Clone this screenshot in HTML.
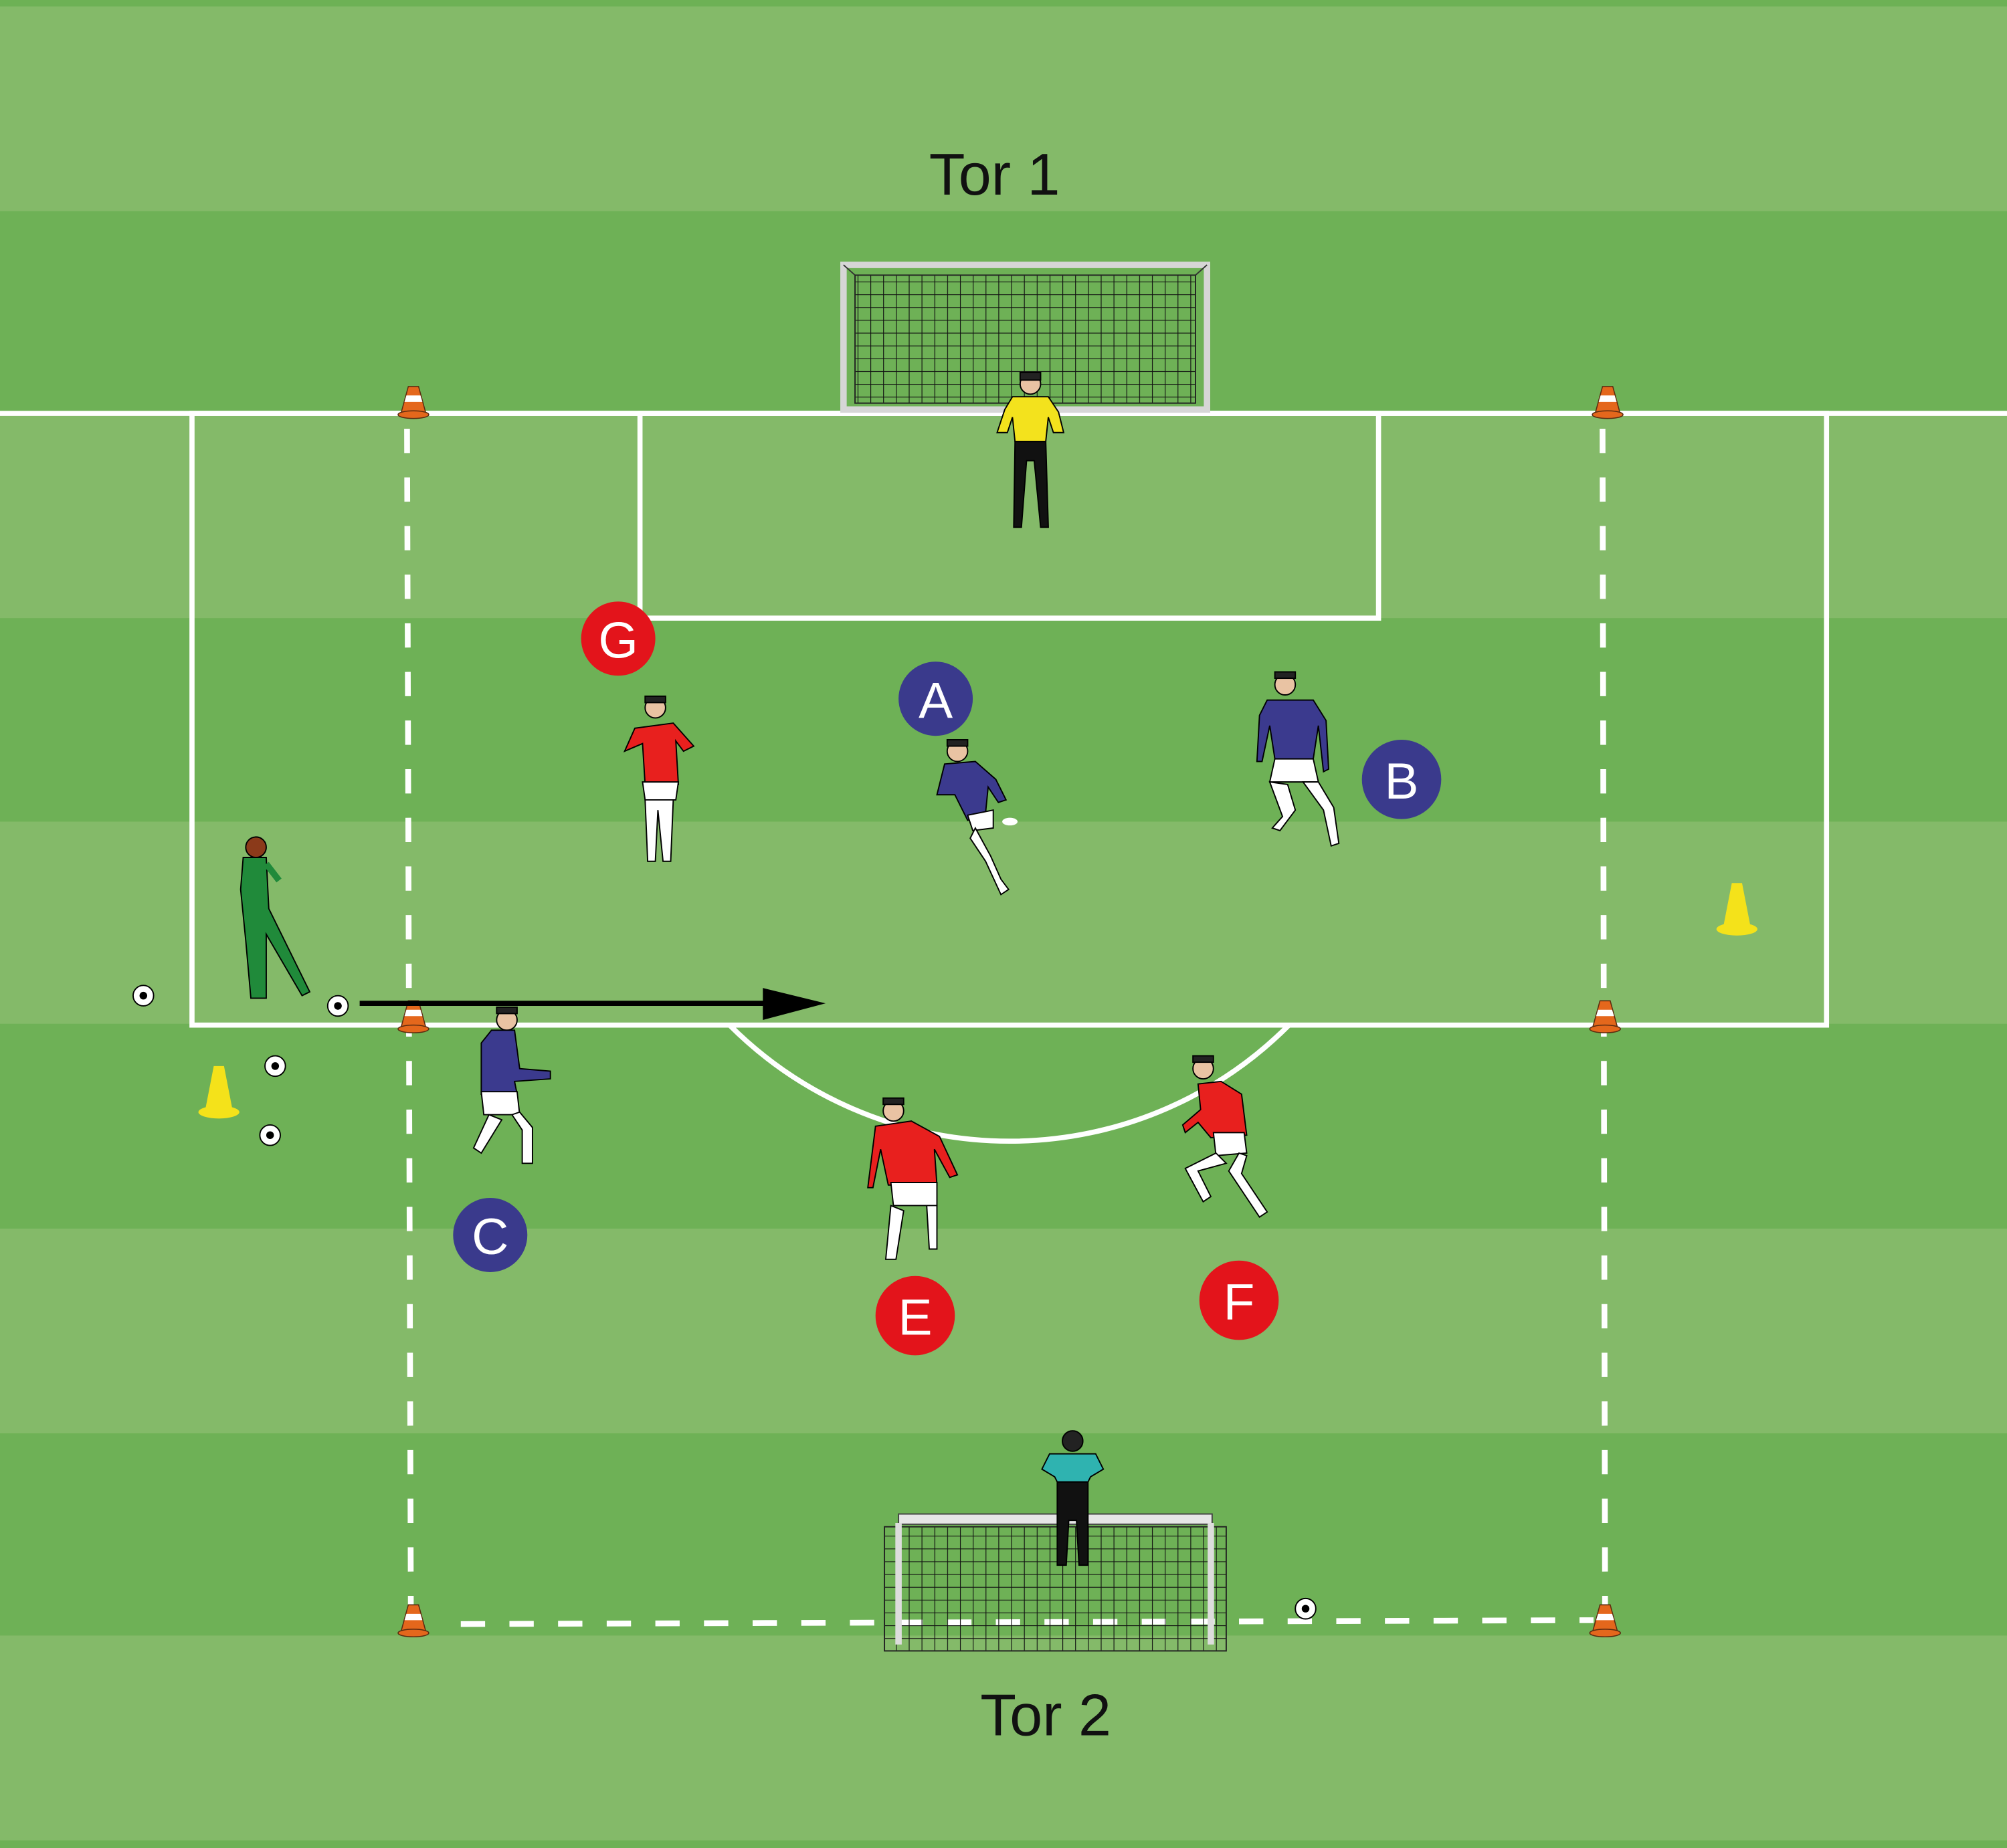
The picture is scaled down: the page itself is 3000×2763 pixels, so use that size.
<!DOCTYPE html>
<html><head><meta charset="utf-8">
<style>
html,body{margin:0;padding:0;width:3000px;height:2763px;overflow:hidden;background:#78b55e}
svg{display:block}
text{font-family:"Liberation Sans",sans-serif}
</style></head><body>
<svg width="3000" height="2763" viewBox="0 0 1568 1444" preserveAspectRatio="none" xmlns="http://www.w3.org/2000/svg">
<defs>
<pattern id="net" width="10" height="10" patternUnits="userSpaceOnUse">
<path d="M0 0H10M0 0V10" stroke="#111" stroke-width="1.2" fill="none"/>
</pattern>
<g id="cone">
<path d="M-4 -16 L4 -16 L10 6 L-10 6 Z" fill="#e4671c" stroke="#5a2b10" stroke-width="0.8"/>
<path d="M-5.5 -9 L5.5 -9 L7 -4 L-7 -4 Z" fill="#fff"/>
<ellipse cx="0" cy="6" rx="12" ry="3" fill="#e4671c" stroke="#5a2b10" stroke-width="0.8"/>
</g>
<g id="ycone">
<path d="M-4 -22 L4 -22 L11 14 L-11 14 Z" fill="#f4e21a"/>
<ellipse cx="0" cy="14" rx="16" ry="5" fill="#f4e21a"/>
</g>
<g id="ball">
<circle r="8" fill="#fff" stroke="#000" stroke-width="1"/>
<circle r="3" fill="#000"/>
</g>
</defs>
<rect x="0" y="0" width="1568" height="1444" fill="#84ba69"/>
<rect x="0" y="0" width="1568" height="5" fill="#6db155"/>
<rect x="0" y="165" width="1568" height="158" fill="#6eb156"/>
<rect x="0" y="483" width="1568" height="159" fill="#6eb156"/>
<rect x="0" y="800" width="1568" height="160" fill="#6eb156"/>
<rect x="0" y="1120" width="1568" height="158" fill="#6eb156"/>
<rect x="0" y="1438" width="1568" height="6" fill="#6db155"/>
<g stroke="#fff" stroke-width="4" fill="none">
<line x1="0" y1="323" x2="1568" y2="323"/>
<rect x="150" y="323" width="1277" height="478"/>
<rect x="500" y="323" width="577" height="160"/>
<path d="M570 801 A309 309 0 0 0 1007 801"/>
</g>
<g stroke="#fff" stroke-width="4.5" stroke-dasharray="19 19" fill="none">
<line x1="318" y1="335" x2="321" y2="1262"/>
<line x1="1252" y1="335" x2="1254" y2="1262"/>
<line x1="360" y1="1269" x2="1245" y2="1266"/>
</g>
<rect x="659" y="207" width="284" height="113" fill="none" stroke="#d6d6d6" stroke-width="5"/>
<rect x="668" y="215" width="266" height="100" fill="url(#net)" stroke="#222"/>
<line x1="659" y1="207" x2="668" y2="215" stroke="#333"/><line x1="943" y1="207" x2="934" y2="215" stroke="#333"/>
<rect x="691" y="1193" width="267" height="97" fill="url(#net)" stroke="#222"/>
<rect x="702" y="1183" width="245" height="8" fill="#e6e6e6" stroke="#444"/>
<line x1="702" y1="1190" x2="702" y2="1285" stroke="#ddd" stroke-width="5"/>
<line x1="946" y1="1190" x2="946" y2="1285" stroke="#ddd" stroke-width="5"/>
<text x="777" y="152" font-size="46" text-anchor="middle" fill="#111">Tor 1</text>
<text x="817" y="1356" font-size="46" text-anchor="middle" fill="#111">Tor 2</text>
<use href="#cone" x="323" y="318"/><use href="#cone" x="1256" y="318"/>
<use href="#cone" x="323" y="798"/><use href="#cone" x="1254" y="798"/>
<use href="#cone" x="323" y="1270"/><use href="#cone" x="1254" y="1270"/>
<use href="#ycone" x="171" y="855"/><use href="#ycone" x="1357" y="712"/>
<use href="#ball" x="112" y="778"/><use href="#ball" x="215" y="833"/><use href="#ball" x="211" y="887"/>
<use href="#ball" x="264" y="786"/><use href="#ball" x="1020" y="1257"/>
<ellipse cx="789" cy="642" rx="6" ry="3" fill="#fff"/>
<line x1="281" y1="784" x2="600" y2="784" stroke="#000" stroke-width="4"/>
<path d="M596 772 L645 784 L596 797 Z" fill="#000"/>
<g stroke="#000" stroke-width="1">
<g transform="translate(805,290)">
<circle cx="0" cy="10" r="8" fill="#e9c3a3"/><rect x="-8" y="1" width="16" height="6" fill="#222"/>
<path d="M-20 30 L-14 20 L14 20 L22 32 L26 48 L18 48 L14 36 L12 55 L-12 55 L-14 36 L-18 48 L-26 48 Z" fill="#f3e21d"/>
<path d="M-12 55 L12 55 L14 122 L8 122 L3 70 L-3 70 L-7 122 L-13 122 Z" fill="#111"/>
</g>
<g transform="translate(838,1118)">
<circle cx="0" cy="8" r="8" fill="#222"/>
<path d="M-18 18 L18 18 L24 30 L14 36 L12 40 L-12 40 L-14 36 L-24 30 Z" fill="#2fb3b0"/>
<path d="M-12 40 L12 40 L12 105 L5 105 L3 70 L-3 70 L-5 105 L-12 105 Z" fill="#111"/>
</g>
<g transform="translate(200,650)">
<circle cx="0" cy="12" r="8" fill="#8b3a1a"/>
<path d="M-10 20 L8 20 L10 60 L42 125 L36 128 L8 80 L8 130 L-4 130 L-8 85 L-12 45 Z" fill="#208a3a"/>
<path d="M8 25 L18 38" stroke="#208a3a" stroke-width="5"/>
</g>
<g transform="translate(512,543)">
<circle cx="0" cy="10" r="8" fill="#e9c3a3"/><rect x="-8" y="1" width="16" height="5" fill="#222"/>
<path d="M-24 44 L-16 26 L14 22 L30 40 L22 44 L16 36 L18 70 L-8 70 L-10 38 Z" fill="#e8201e"/>
<path d="M-10 68 L18 68 L16 82 L-8 82 Z" fill="#fff"/>
<path d="M-8 82 L-6 130 L0 130 L2 90 L6 130 L12 130 L14 82 Z" fill="#fff"/>
</g>
<g transform="translate(748,577)">
<circle cx="0" cy="10" r="8" fill="#e9c3a3"/><rect x="-8" y="1" width="16" height="5" fill="#222"/>
<path d="M-16 44 L-10 20 L14 18 L30 32 L38 48 L32 50 L24 38 L22 58 L8 64 L-2 44 Z" fill="#3b3a8e"/>
<path d="M8 60 L28 56 L28 70 L12 72 Z" fill="#fff"/>
<path d="M14 70 L26 92 L34 110 L40 118 L34 122 L22 96 L10 78 Z" fill="#fff"/>
</g>
<g transform="translate(1008,523)">
<circle cx="-4" cy="12" r="8" fill="#e9c3a3"/><rect x="-12" y="2" width="16" height="5" fill="#222"/>
<path d="M-24 36 L-18 24 L18 24 L28 40 L30 78 L26 80 L22 44 L18 70 L-12 70 L-16 44 L-22 72 L-26 72 Z" fill="#3b3a8e"/>
<path d="M-12 70 L18 70 L22 88 L-16 88 Z" fill="#fff"/>
<path d="M-16 88 L-6 115 L-14 124 L-8 126 L4 110 L-2 90 Z" fill="#fff"/>
<path d="M10 88 L26 110 L32 138 L38 136 L34 108 L22 88 Z" fill="#fff"/>
</g>
<g transform="translate(392,787)">
<circle cx="4" cy="10" r="8" fill="#e9c3a3"/><rect x="-4" y="0" width="16" height="5" fill="#222"/>
<path d="M-16 28 L-8 18 L10 18 L14 48 L38 50 L38 56 L10 58 L12 68 L-16 68 Z" fill="#3b3a8e"/>
<path d="M-16 66 L12 66 L14 84 L-14 84 Z" fill="#fff"/>
<path d="M-10 84 L-22 110 L-16 114 L0 88 Z M8 84 L16 96 L16 122 L24 122 L24 94 L14 82 Z" fill="#fff"/>
</g>
<g transform="translate(698,858)">
<circle cx="0" cy="10" r="8" fill="#e9c3a3"/><rect x="-8" y="0" width="16" height="5" fill="#222"/>
<path d="M-14 22 L14 18 L36 30 L50 60 L44 62 L32 40 L34 68 L-4 68 L-10 40 L-16 70 L-20 70 Z" fill="#e8201e"/>
<path d="M-2 66 L34 66 L34 84 L0 84 Z" fill="#fff"/>
<path d="M-2 84 L-6 126 L2 126 L8 88 Z M26 84 L28 118 L34 118 L34 84 Z" fill="#fff"/>
</g>
<g transform="translate(940,825)">
<circle cx="0" cy="10" r="8" fill="#e9c3a3"/><rect x="-8" y="0" width="16" height="5" fill="#222"/>
<path d="M-4 22 L14 20 L30 30 L34 62 L6 64 L-4 52 L-14 60 L-16 54 L-2 42 Z" fill="#e8201e"/>
<path d="M8 60 L32 60 L34 76 L10 78 Z" fill="#fff"/>
<path d="M10 76 L-14 88 L0 114 L6 110 L-4 90 L18 84 Z M28 76 L20 90 L44 126 L50 122 L30 92 L34 78 Z" fill="#fff"/>
</g>
</g>
<g font-size="40" text-anchor="middle" fill="#fff">
<circle cx="483" cy="499" r="29" fill="#e3141b"/><text x="483" y="514">G</text>
<circle cx="731" cy="546" r="29" fill="#3a3a8c"/><text x="731" y="561">A</text>
<circle cx="1095" cy="609" r="31" fill="#3a3a8c"/><text x="1095" y="624">B</text>
<circle cx="383" cy="965" r="29" fill="#3a3a8c"/><text x="383" y="980">C</text>
<circle cx="715" cy="1028" r="31" fill="#e3141b"/><text x="715" y="1043">E</text>
<circle cx="968" cy="1016" r="31" fill="#e3141b"/><text x="968" y="1031">F</text>
</g>
</svg>
</body></html>
